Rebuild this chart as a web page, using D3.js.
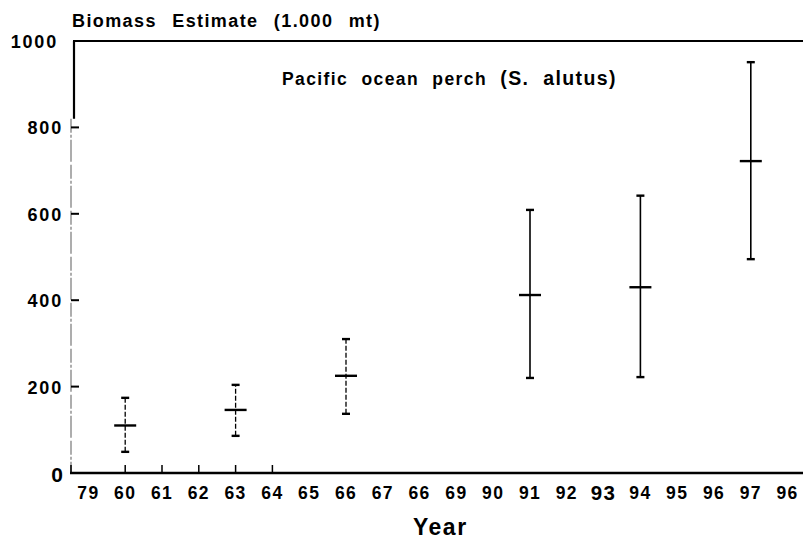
<!DOCTYPE html>
<html>
<head>
<meta charset="utf-8">
<script src="https://cdn.jsdelivr.net/npm/d3@7"></script>
<style>
  body { margin: 0; background: #fff; }
  svg { font-family: "Liberation Sans", Arial, sans-serif; }
</style>
</head>
<body>
<div id="chart"></div>
<script>
// x labels as printed on the original (scan artefacts kept)
const yearLabels = ["79", "60", "61", "62", "63", "64", "65", "66", "67", "66",
                    "69", "90", "91", "92", "93", "94", "95", "96", "97", "96"];
// positions (index into yearLabels) of the surveys
const surveyIndex = [1, 4, 7, 12, 15, 18];
const estimate = [110, 146, 225, 412, 430, 722];
const lower    = [49, 86, 137, 220, 222, 495];
const upper    = [174, 204, 310, 609, 642, 951];
const dashedBar = [true, true, true, false, false, false];
const yTicks = [0, 200, 400, 600, 800, 1000];
const xTickIndex = [1, 2, 3, 4, 5];

const width = 803, height = 539;
const margin = { top: 41, right: 0, bottom: 66, left: 70 };

const svg = d3.select("#chart").append("svg")
  .attr("width", width)
  .attr("height", height);

const x = d3.scaleBand()
  .domain(d3.range(yearLabels.length))
  .range([margin.left, 806]);

const y = d3.scaleLinear()
  .domain([0, 1000])
  .range([height - margin.bottom, margin.top]);

const cx = i => x(i) + x.bandwidth() / 2;

// frame: top border + short solid left piece, rest of left axis faint/dashed
svg.append("line")
  .attr("x1", 73).attr("x2", width)
  .attr("y1", y(1000)).attr("y2", y(1000))
  .attr("stroke", "#000").attr("stroke-width", 2.2);
svg.append("line")
  .attr("x1", 74).attr("x2", 74)
  .attr("y1", y(1000)).attr("y2", y(820))
  .attr("stroke", "#000").attr("stroke-width", 2.2);
svg.append("line")
  .attr("x1", 71).attr("x2", 71)
  .attr("y1", y(820)).attr("y2", y(0))
  .attr("stroke", "#777").attr("stroke-width", 1.2)
  .attr("stroke-dasharray", "14,2,3,2,22,3");

// bottom axis line
svg.append("line")
  .attr("x1", 70).attr("x2", width)
  .attr("y1", y(0)).attr("y2", y(0))
  .attr("stroke", "#000").attr("stroke-width", 2.4);

// y axis ticks and labels
const yAxis = d3.axisLeft(y)
  .tickValues(yTicks)
  .tickSizeInner(0)
  .tickSizeOuter(0)
  .tickPadding(10)
  .tickFormat(d3.format("d"));

const gy = svg.append("g")
  .attr("transform", `translate(${margin.left},0)`)
  .call(yAxis);
gy.select(".domain").remove();
gy.selectAll("text")
  .attr("font-size", d => d === 0 ? 21 : 18)
  .attr("font-weight", "bold")
  .attr("letter-spacing", d => d === 0 ? 0 : 1.8)
  .attr("fill", "#000")
  .attr("font-family", "Liberation Sans, Arial, sans-serif")
  .attr("dy", d => d === 0 ? "0.4em" : "0.36em")
  .attr("x", d => d === 1000 ? -12 : -7);

svg.append("g").selectAll("line")
  .data(yTicks.filter(d => d > 0 && d < 1000))
  .join("line")
  .attr("x1", 71).attr("x2", 79)
  .attr("y1", d => y(d)).attr("y2", d => y(d))
  .attr("stroke", "#000").attr("stroke-width", 2);

// x axis labels
const xAxis = d3.axisBottom(x)
  .tickSize(0)
  .tickPadding(14)
  .tickFormat(i => yearLabels[i]);

const gx = svg.append("g")
  .attr("transform", `translate(0,${y(0)})`)
  .call(xAxis);
gx.select(".domain").remove();
gx.selectAll("text")
  .attr("font-size", i => yearLabels[i] === "93" ? 20.5 : 17.5)
  .attr("font-weight", "bold")
  .attr("letter-spacing", 1.4)
  .attr("fill", "#000")
  .attr("font-family", "Liberation Sans, Arial, sans-serif")
  .attr("dy", i => yearLabels[i] === "93" ? "0.62em" : "0.7em");

// short upward ticks
svg.append("g").selectAll("line")
  .data([null].concat(xTickIndex))
  .join("line")
  .attr("x1", i => i === null ? 71 : cx(i))
  .attr("x2", i => i === null ? 71 : cx(i))
  .attr("y1", y(0)).attr("y2", y(0) - 8)
  .attr("stroke", "#000").attr("stroke-width", 1.5);

// error bars
const bars = svg.append("g").selectAll("g")
  .data(surveyIndex.map((idx, k) => ({
    idx, est: estimate[k], lo: lower[k], hi: upper[k], dashed: dashedBar[k]
  })))
  .join("g");

bars.append("line")
  .attr("x1", d => cx(d.idx)).attr("x2", d => cx(d.idx))
  .attr("y1", d => y(d.lo)).attr("y2", d => y(d.hi))
  .attr("stroke", "#000")
  .attr("stroke-width", d => d.dashed ? 1.3 : 1.6)
  .attr("stroke-dasharray", d => d.dashed ? "5,2" : null);

bars.selectAll(".cap")
  .data(d => [d.lo, d.hi].map(v => ({ idx: d.idx, v })))
  .join("line")
  .attr("class", "cap")
  .attr("x1", d => cx(d.idx) - 4).attr("x2", d => cx(d.idx) + 4)
  .attr("y1", d => y(d.v)).attr("y2", d => y(d.v))
  .attr("stroke", "#000").attr("stroke-width", 2.4);

bars.append("line")
  .attr("x1", d => cx(d.idx) - 11).attr("x2", d => cx(d.idx) + 11)
  .attr("y1", d => y(d.est)).attr("y2", d => y(d.est))
  .attr("stroke", "#000").attr("stroke-width", 2.4);

// titles
svg.append("text")
  .attr("x", 72).attr("y", 27)
  .attr("font-size", 18).attr("font-weight", "bold")
  .attr("letter-spacing", 1.4)
  .attr("word-spacing", 9)
  .text("Biomass Estimate (1.000 mt)");

const sub = svg.append("text")
  .attr("x", 282).attr("y", 85)
  .attr("font-weight", "bold")
  .attr("letter-spacing", 1.4)
  .attr("word-spacing", 7);
sub.append("tspan").attr("font-size", 17.5).text("Pacific ocean perch ");
sub.append("tspan").attr("font-size", 19.5).text("(S. alutus)");

svg.append("text")
  .attr("x", 413).attr("y", 535)
  .attr("font-size", 23).attr("font-weight", "bold")
  .attr("letter-spacing", 1.5)
  .text("Year");
</script>
</body>
</html>
